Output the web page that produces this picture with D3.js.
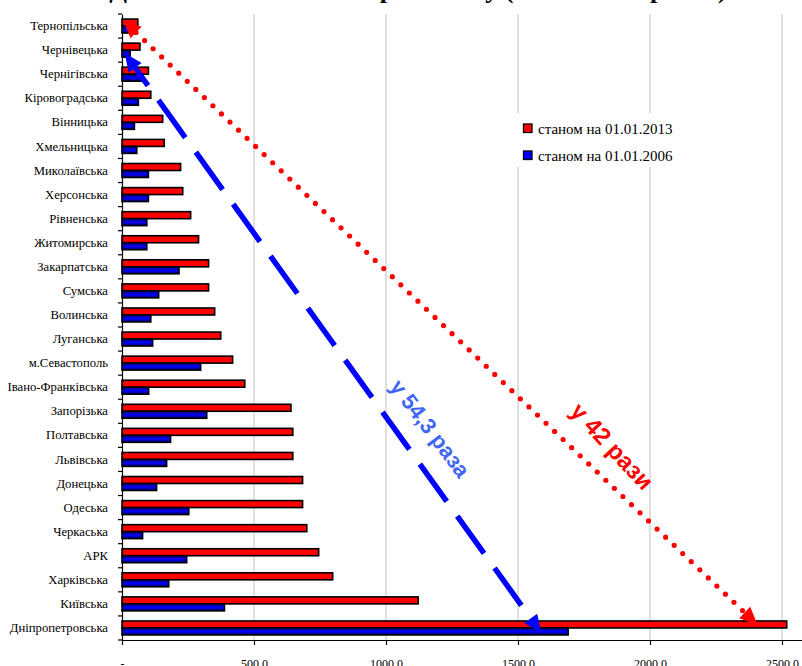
<!DOCTYPE html>
<html>
<head>
<meta charset="utf-8">
<script src="https://cdn.jsdelivr.net/npm/d3@7"></script>
<style>
  html, body { margin: 0; padding: 0; background: #fff; }
  svg { display: block; }
  .serif { font-family: 'Liberation Serif', 'Times New Roman', serif; }
</style>
</head>
<body>
<svg id="chart" width="802" height="666"></svg>
<script>
'use strict'

// categories, from top to bottom
const regions = [
  'Тернопільська', 'Чернівецька', 'Чернігівська', 'Кіровоградська', 'Вінницька',
  'Хмельницька', 'Миколаївська', 'Херсонська', 'Рівненська', 'Житомирська',
  'Закарпатська', 'Сумська', 'Волинська', 'Луганська', 'м.Севастополь',
  'Івано-Франківська', 'Запорізька', 'Полтавська', 'Львівська', 'Донецька',
  'Одеська', 'Черкаська', 'АРК', 'Харківська', 'Київська', 'Дніпропетровська'
]
const values2013 = [60, 68, 100, 109, 154, 160, 222, 230, 260, 290, 328, 328, 351, 374, 419,
  465, 640, 647, 647, 684, 684, 700, 745, 798, 1122, 2518]
const values2006 = [40, 31, 80, 62, 47, 56, 100, 100, 94, 94, 216, 139, 109, 116, 298,
  101, 321, 184, 169, 131, 253, 78, 245, 177, 388, 1690]
const seriesNames = ['станом на 01.01.2013', 'станом на 01.01.2006']
const xTicks = [0, 500, 1000, 1500, 2000, 2500]
const titleText = 'Динаміка кількості по регіонах у (2006 – 2013 роках)'
const note2006 = 'у 54,3 раза'
const note2013 = 'у 42 рази'

const data = regions.map(function (r, i) {
  return {region: r, v2013: values2013[i], v2006: values2006[i]}
})

const svg = d3.select('#chart')
const plotLeft = 122
const plotTop = 14
const plotBottom = 640

const x = d3.scaleLinear().domain([0, 2600]).range([plotLeft, plotLeft + 2600 * 0.264])
const y = d3.scaleBand().domain(regions).range([plotTop, plotBottom])
  .paddingInner(0.42).paddingOuter(0.21)
const inner = d3.scaleBand().domain(['2013', '2006']).range([0, y.bandwidth()])

const locale = d3.formatLocale({decimal: ',', thousands: '', grouping: [3], currency: ['', '']})
const fmt = locale.format('.1f')

const defs = svg.append('defs')
const grad = defs.append('linearGradient')
  .attr('id', 'blueGrad').attr('x1', 0).attr('x2', 0).attr('y1', 0).attr('y2', 1)
grad.append('stop').attr('offset', '0%').attr('stop-color', '#00006a')
grad.append('stop').attr('offset', '50%').attr('stop-color', '#0000ff')
grad.append('stop').attr('offset', '100%').attr('stop-color', '#00006a')

// title, mostly cut off by the top edge
svg.append('text')
  .attr('class', 'serif')
  .attr('x', 418).attr('y', -2)
  .attr('text-anchor', 'middle')
  .attr('font-size', 26).attr('font-weight', 'bold')
  .text(titleText)

// vertical gridlines
svg.append('g').selectAll('line')
  .data(xTicks.slice(1))
  .enter().append('line')
  .attr('x1', d => x(d)).attr('x2', d => x(d))
  .attr('y1', plotTop).attr('y2', plotBottom)
  .attr('stroke', '#c0c0c0').attr('stroke-width', 1)

// bars
const rows = svg.append('g').selectAll('g')
  .data(data)
  .enter().append('g')
  .attr('transform', d => `translate(0,${y(d.region)})`)

rows.append('rect')
  .attr('x', x(0))
  .attr('y', inner('2013'))
  .attr('width', d => x(d.v2013) - x(0))
  .attr('height', inner.bandwidth())
  .attr('fill', '#ff0000')
  .attr('stroke', '#000').attr('stroke-width', 1.6)

rows.append('rect')
  .attr('x', x(0))
  .attr('y', inner('2006'))
  .attr('width', d => x(d.v2006) - x(0))
  .attr('height', inner.bandwidth())
  .attr('fill', 'url(#blueGrad)')
  .attr('stroke', '#000').attr('stroke-width', 1.6)

// y axis
const yAxis = d3.axisLeft(y).tickSize(0).tickPadding(14)
const gy = svg.append('g')
  .attr('transform', `translate(${plotLeft},0)`)
  .call(yAxis)
gy.select('.domain').attr('stroke', '#000').attr('stroke-width', 1.2)
gy.selectAll('text')
  .attr('class', 'serif')
  .attr('font-size', 12.7).attr('fill', '#000')

// ticks between categories
const bounds = regions.map(r => y(r) - y.step() * y.paddingInner() / 2)
bounds.push(plotBottom)
gy.selectAll('.bound')
  .data(bounds)
  .enter().append('line')
  .attr('class', 'bound')
  .attr('x1', -4).attr('x2', 0)
  .attr('y1', d => d).attr('y2', d => d)
  .attr('stroke', '#000').attr('stroke-width', 1.2)

// x axis
const xAxis = d3.axisBottom(x)
  .tickValues(xTicks)
  .tickSize(5).tickSizeOuter(0)
  .tickPadding(14)
  .tickFormat(d => d === 0 ? '-' : fmt(d))
const gx = svg.append('g')
  .attr('transform', `translate(0,${plotBottom})`)
  .call(xAxis)
gx.select('.domain').attr('stroke', '#000').attr('stroke-width', 1.2)
gx.selectAll('line').attr('stroke', '#000').attr('stroke-width', 1.2)
gx.selectAll('text')
  .attr('class', 'serif')
  .attr('font-size', 12).attr('fill', '#000')

// legend
const legend = svg.append('g').attr('transform', 'translate(514,113)')
legend.append('rect')
  .attr('width', 178).attr('height', 54)
  .attr('fill', '#fff')
const legendColors = ['#ff0000', '#0000ff']
seriesNames.forEach(function (name, i) {
  legend.append('rect')
    .attr('x', 9.5).attr('y', 11 + i * 27)
    .attr('width', 8.5).attr('height', 8.5)
    .attr('fill', legendColors[i])
    .attr('stroke', '#000').attr('stroke-width', 1.3)
  legend.append('text')
    .attr('class', 'serif')
    .attr('x', 24).attr('y', 20.5 + i * 27)
    .attr('font-size', 15).attr('fill', '#000')
    .text(name)
})

// double-headed arrows, anchored to the bars they compare
function arrow (p0, p1, color, dash, width, offset) {
  const dx = p1[0] - p0[0]
  const dy = p1[1] - p0[1]
  const len = Math.sqrt(dx * dx + dy * dy)
  const ux = dx / len
  const uy = dy / len
  const nx = -uy
  const ny = ux
  const hl = 18
  const hw = 8
  const g = svg.append('g')
  g.append('line')
    .attr('x1', p0[0] + ux * hl).attr('y1', p0[1] + uy * hl)
    .attr('x2', p1[0] - ux * hl).attr('y2', p1[1] - uy * hl)
    .attr('stroke', color).attr('stroke-width', width)
    .attr('stroke-dasharray', dash)
    .attr('stroke-dashoffset', offset)
    .attr('stroke-linecap', dash.startsWith('0') ? 'round' : 'butt')
  const heads = [[p0, 1], [p1, -1]]
  heads.forEach(function (h) {
    const tip = h[0]
    const s = h[1]
    const bx = tip[0] + s * ux * hl
    const by = tip[1] + s * uy * hl
    g.append('path')
      .attr('d', `M${tip[0]},${tip[1]}L${bx + nx * hw},${by + ny * hw}L${bx - nx * hw},${by - ny * hw}Z`)
      .attr('fill', color)
  })
}

const last = regions[regions.length - 1]
arrow([x(0) + 1, y(regions[0]) + 1],
  [x(2408), y(last) + inner('2013') + 4], '#ff0000', '0,11.8', 5.2, 0)
arrow([x(10), y(regions[1]) + inner('2006') + 3],
  [x(1588), y(last) + inner('2006') + 5], '#0000ff', '46,18', 5.5, 24)

svg.append('text')
  .attr('transform', 'translate(424,433) rotate(53)')
  .attr('text-anchor', 'middle')
  .attr('font-family', 'Liberation Sans, Arial, sans-serif')
  .attr('font-weight', 'bold').attr('font-size', 22)
  .attr('fill', '#3f66f5')
  .text(note2006)

svg.append('text')
  .attr('transform', 'translate(606,452) rotate(47)')
  .attr('text-anchor', 'middle')
  .attr('font-family', 'Liberation Sans, Arial, sans-serif')
  .attr('font-weight', 'bold').attr('font-size', 24)
  .attr('fill', '#ff0000')
  .text(note2013)
</script>
</body>
</html>
